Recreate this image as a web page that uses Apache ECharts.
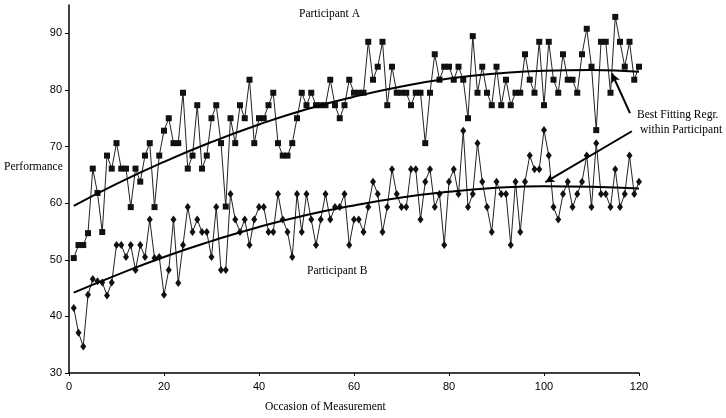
<!DOCTYPE html>
<html>
<head>
<meta charset="utf-8">
<script src="https://cdn.jsdelivr.net/npm/echarts@6/dist/echarts.min.js"></script>
<style>html,body{margin:0;padding:0;background:#fff}#c{width:726px;height:418px}</style>
</head>
<body>
<div id="c"></div>
<script>
// Performance values, occasions 1..120
const participantA = [
 50.3,52.6,52.6,54.7,66.1,61.8,54.9,68.4,66.1,70.6,
 66.1,66.1,59.3,66.1,63.8,68.4,70.6,59.3,68.4,72.8,
 75.0,70.6,70.6,79.5,66.1,68.4,77.3,66.1,68.4,75.0,
 77.3,70.6,59.4,75.0,70.6,77.3,75.0,81.8,70.6,75.0,
 75.0,77.3,79.5,70.6,68.4,68.4,70.6,75.0,79.5,77.3,
 79.5,77.3,77.3,77.3,81.8,77.3,75.0,77.3,81.8,79.5,
 79.5,79.5,88.5,81.8,84.1,88.5,77.3,84.1,79.5,79.5,
 79.5,77.3,79.5,79.5,70.6,79.5,86.3,81.8,84.1,84.1,
 81.8,84.1,81.8,75.0,89.5,79.5,84.1,79.5,77.3,84.1,
 77.3,81.8,77.3,79.5,79.5,86.3,81.8,79.5,88.5,77.3,
 88.5,81.8,79.5,86.3,81.8,81.8,79.5,86.3,90.8,84.1,
 72.9,88.5,88.5,79.5,92.9,88.5,84.1,88.5,81.8,84.1
];
const participantB = [
 41.5,37.1,34.7,43.8,46.6,46.2,46.0,43.7,46.0,52.6,
 52.6,50.5,52.6,48.2,52.6,50.5,57.1,50.3,50.5,43.8,
 48.2,57.1,45.9,52.6,59.3,54.9,57.1,54.9,54.9,50.5,
 59.3,48.2,48.2,61.6,57.1,54.9,57.1,52.6,57.1,59.3,
 59.3,54.9,54.9,61.6,57.1,54.9,50.5,61.6,54.9,61.6,
 57.1,52.6,57.1,61.6,57.1,59.3,59.3,61.6,52.6,57.1,
 57.1,54.9,59.3,63.8,61.6,54.9,59.3,66.0,61.6,59.3,
 59.3,66.0,66.0,57.1,63.8,66.0,59.3,61.6,52.6,63.8,
 66.0,61.6,72.8,59.3,61.6,70.6,63.8,59.3,54.9,63.8,
 61.6,61.6,52.6,63.8,54.9,63.8,68.4,66.0,66.0,72.9,
 68.4,59.3,57.1,61.6,63.8,59.3,61.6,63.8,68.4,59.3,
 70.6,61.6,61.6,59.3,66.0,59.3,61.6,68.4,61.6,63.8
];
// Best fitting regression curves, read at these occasions
const fitOccasions = [1,10,20,30,40,50,60,70,80,90,100,110,120];
const fitA = [59.5,63.4,67.3,70.8,73.9,76.6,78.8,80.6,82.0,82.9,83.4,83.5,83.2];
const fitB = [44.2,47.3,50.5,53.3,55.8,57.9,59.6,61.0,62.0,62.7,63.0,62.9,62.6];
const yTicks = [30,40,50,60,70,80,90];
const xTicks = [0,20,40,60,80,100,120];
// Annotation arrows (data coords: [from, to])
const arrowToA = [[118.1,75.9],[114.3,82.9]];
const arrowToB = [[118.5,72.7],[100.3,63.7]];

const pairs = vals => vals.map((v,i)=>[i+1,v]);
const serif = '"Liberation Serif","Times New Roman",serif';
const sans = '"Liberation Sans",Arial,sans-serif';

const chart = echarts.init(document.getElementById('c'), null, {renderer:'canvas'});
chart.setOption({
  animation:false,
  backgroundColor:'#fff',
  grid:{left:69,right:87,top:5,bottom:45,containLabel:false},
  xAxis:{type:'value',min:0,max:120,interval:20,
    axisLine:{lineStyle:{color:'#000',width:1.5}},
    axisTick:{show:true,length:3,lineStyle:{color:'#000'},customValues:xTicks},
    axisLabel:{color:'#000',fontFamily:sans,fontSize:11,margin:8,customValues:xTicks},
    splitLine:{show:false}},
  yAxis:{type:'value',min:30,max:95,interval:10,
    axisLine:{show:true,lineStyle:{color:'#000',width:1.5}},
    axisTick:{show:true,length:4,lineStyle:{color:'#000'},customValues:yTicks},
    axisLabel:{color:'#000',fontFamily:sans,fontSize:11,margin:7,customValues:yTicks},
    splitLine:{show:false}},
  series:[
    {type:'line',data:pairs(participantA),symbol:'rect',symbolSize:6,
     lineStyle:{color:'#222',width:1},itemStyle:{color:'#111'},z:3},
    {type:'line',data:pairs(participantB),symbol:'diamond',symbolSize:[6,8],
     lineStyle:{color:'#222',width:1},itemStyle:{color:'#111'},z:3},
    {type:'line',data:fitOccasions.map((x,i)=>[x,fitA[i]]),smooth:true,showSymbol:false,
     lineStyle:{color:'#000',width:2},z:4},
    {type:'line',data:fitOccasions.map((x,i)=>[x,fitB[i]]),smooth:true,showSymbol:false,
     lineStyle:{color:'#000',width:2},z:4,
     markLine:{silent:true,symbol:['none','arrow'],symbolSize:[7,9],label:{show:false},
       lineStyle:{color:'#000',width:2,type:'solid'},
       data:[
        [{coord:arrowToA[0]},{coord:arrowToA[1]}],
        [{coord:arrowToB[0]},{coord:arrowToB[1]}]
       ]}}
  ],
  graphic:[
    {type:'text',left:299,top:8,style:{text:'Participant A',font:'11.5px '+serif,fill:'#000'}},
    {type:'text',left:307,top:265,style:{text:'Participant B',font:'11.5px '+serif,fill:'#000'}},
    {type:'text',left:4,top:161,style:{text:'Performance',font:'11.5px '+serif,fill:'#000'}},
    {type:'text',left:637,top:109,style:{text:'Best Fitting Regr.',font:'11.5px '+serif,fill:'#000'}},
    {type:'text',left:640,top:124,style:{text:'within Participant',font:'11.5px '+serif,fill:'#000'}},
    {type:'text',left:265,top:401,style:{text:'Occasion of Measurement',font:'11.5px '+serif,fill:'#000'}}
  ]
});
</script>
</body>
</html>
